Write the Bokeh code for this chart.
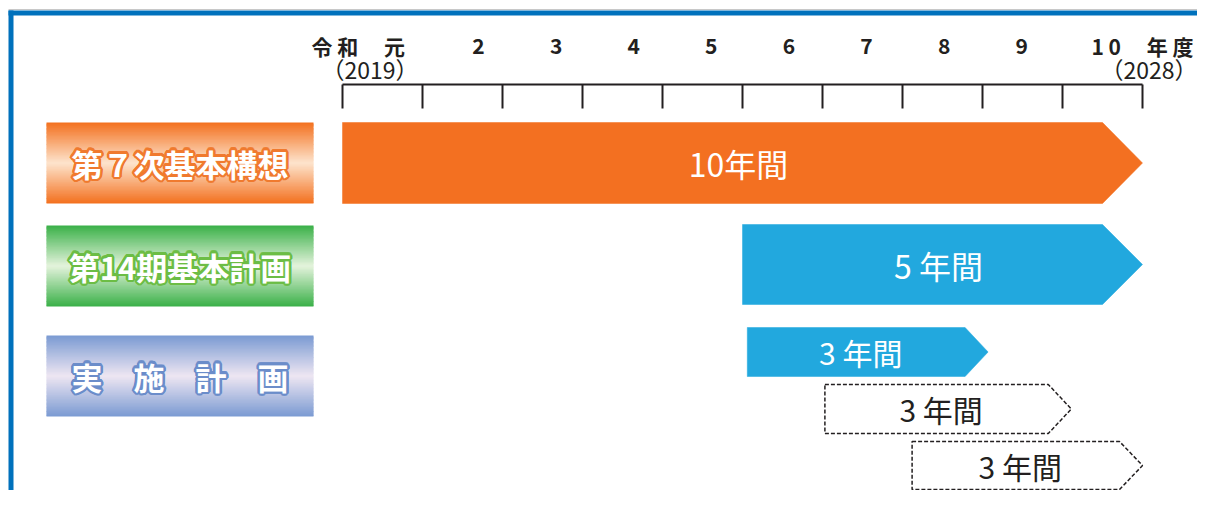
import numpy as np
from bokeh.plotting import figure
from bokeh.models import Range1d
from bokeh.core.properties import value
from bokeh.embed import file_html
from bokeh.resources import INLINE

# ---------------- data ----------------
years = list(range(0, 11))                      # fiscal-year boundaries (0 = start of 令和元)
year_labels = ["令 和 　元", "2", "3", "4", "5", "6", "7", "8", "9", "1 0 　年 度"]
year_sub = ["（2019）", "", "", "", "", "", "", "", "", "（2028）"]

plan_names = ["第７次基本構想", "第14期基本計画", "実　施　計　画"]

bar_start = [0.0, 5.0, 5.06, 6.03, 7.12]
bar_end = [10.0, 10.0, 8.07, 9.11, 10.0]
bar_labels = ["10年間", "5 年間", "3 年間", "3 年間", "3 年間"]
bar_kind = ["orange", "blue", "blue", "dashed", "dashed"]

# ---------------- layout helpers ----------------
W, H = 1197, 490
PX0, PPY = 342.0, 80.0            # px of year 0, px per year


def X(px):
    return (px - PX0) / PPY


FONT = value("Noto Sans CJK JP")

p = figure(width=W, height=H, x_range=Range1d(X(0), X(W)), y_range=Range1d(H, 0),
           output_backend="svg", toolbar_location=None, min_border=0,
           x_axis_type=None, y_axis_type=None, outline_line_color=None)
p.grid.visible = False
p.background_fill_color = "white"
p.border_fill_color = "white"

# frame border (blue)
p.line(x=[X(8), X(W)], y=[9, 9], line_color="#c8c8c8", line_width=1)
p.line(x=[X(8), X(W)], y=[12.5, 12.5], line_color="#0071bc", line_width=5)
p.line(x=[X(10.5), X(10.5)], y=[10, H], line_color="#0071bc", line_width=5)

# ---------------- timeline scale ----------------
AXY, TICK_B = 84, 108
p.line(x=[years[0], years[-1]], y=[AXY, AXY], line_color="#231f20", line_width=2)
p.segment(x0=years, y0=[AXY] * len(years), x1=years, y1=[TICK_B] * len(years),
          line_color="#231f20", line_width=2)

TOP_FS = "21px"
SUB_FS = "23px"
mid_x = [1.7 + 0.97 * (k - 1) for k in range(1, 9)]
p.text(x=mid_x, y=[45] * 8, text=year_labels[1:9], text_font=FONT, text_font_style="bold",
       text_font_size=TOP_FS, text_align="center", text_baseline="middle", text_color="#231f20")
p.text(x=[X(311)], y=[45], text=[year_labels[0]], text_font=FONT, text_font_style="bold",
       text_font_size=TOP_FS, text_align="left", text_baseline="middle", text_color="#231f20")
p.text(x=[X(1193)], y=[45], text=[year_labels[-1]], text_font=FONT, text_font_style="bold",
       text_font_size=TOP_FS, text_align="right", text_baseline="middle", text_color="#231f20")
p.text(x=[X(321)], y=[68], text=[year_sub[0]], text_font=FONT,
       text_font_size=SUB_FS, text_align="left", text_baseline="middle", text_color="#231f20")
p.text(x=[X(1197)], y=[68], text=[year_sub[-1]], text_font=FONT,
       text_font_size=SUB_FS, text_align="right", text_baseline="middle", text_color="#231f20")

# ---------------- left label boxes with gradient ----------------
box_rows = [(122, 203), (225, 306), (335, 416)]
edge_cols = [(243, 112, 30), (58, 176, 72), (122, 154, 210)]
mid_cols = [(253, 228, 205), (228, 243, 220), (238, 230, 242)]
outline_cols = ["#f07a2e", "#6cbd45", "#6b8dca"]
BL, BR = X(46), X(313)
N = 60

# offsets for a thick coloured outline around white text
ang = np.linspace(0, 2 * np.pi, 16, endpoint=False)
OX = list(np.round(2.4 * np.cos(ang), 2))
OY = list(np.round(2.4 * np.sin(ang), 2))


def hexc(c):
    return "#%02x%02x%02x" % tuple(int(round(v)) for v in c)


for (top, bot), ec, mc, oc, name in zip(box_rows, edge_cols, mid_cols, outline_cols, plan_names):
    edges = np.linspace(top, bot, N + 1)
    cols = []
    for i in range(N):
        t = abs((i + 0.5) / N - 0.5) * 2
        cols.append(hexc([mc[j] + (ec[j] - mc[j]) * t for j in range(3)]))
    p.quad(left=BL, right=BR, top=edges[:-1], bottom=np.minimum(edges[1:] + 0.8, bot),
           fill_color=cols, line_color=None)
    cx, cy = (BL + BR) / 2, (top + bot) / 2
    p.text(x=[cx] * len(OX), y=[cy] * len(OX), x_offset=OX, y_offset=OY,
           text=[name] * len(OX), text_font=FONT,
           text_font_style="bold", text_font_size="31px", text_align="center",
           text_baseline="middle", text_color=oc)
    p.text(x=[cx], y=[cy], text=[name], text_font=FONT,
           text_font_style="bold", text_font_size="31px", text_align="center",
           text_baseline="middle", text_color="white")

# ---------------- bars (arrows) ----------------
bar_rows = [(122, 203), (224, 304), (327, 376), (384, 433), (441, 489)]
fill_map = {"orange": "#f37021", "blue": "#22a8de", "dashed": "white"}
text_col = {"orange": "white", "blue": "white", "dashed": "#231f20"}

for s, e, lab, kind, (top, bot) in zip(bar_start, bar_end, bar_labels, bar_kind, bar_rows):
    h = bot - top
    arrow = (40 if h > 60 else 23) / PPY
    mid = (top + bot) / 2
    xs = [s, e - arrow, e, e - arrow, s]
    ys = [top, top, mid, bot, bot]
    if kind == "dashed":
        p.patch(x=xs, y=ys, fill_color="white", line_color="#231f20", line_width=1.5,
                line_dash="4 2")
    else:
        p.patch(x=xs, y=ys, fill_color=fill_map[kind], line_color=fill_map[kind], line_width=0.5)
    fs = "32px" if h > 60 else "30px"
    p.text(x=[(s + e) / 2], y=[mid], x_offset=-4 if h > 60 else -7, text=[lab], text_font=FONT,
           text_font_size=fs, text_align="center", text_baseline="middle",
           text_color=text_col[kind])

open("out.html", "w").write(file_html(p, INLINE))
